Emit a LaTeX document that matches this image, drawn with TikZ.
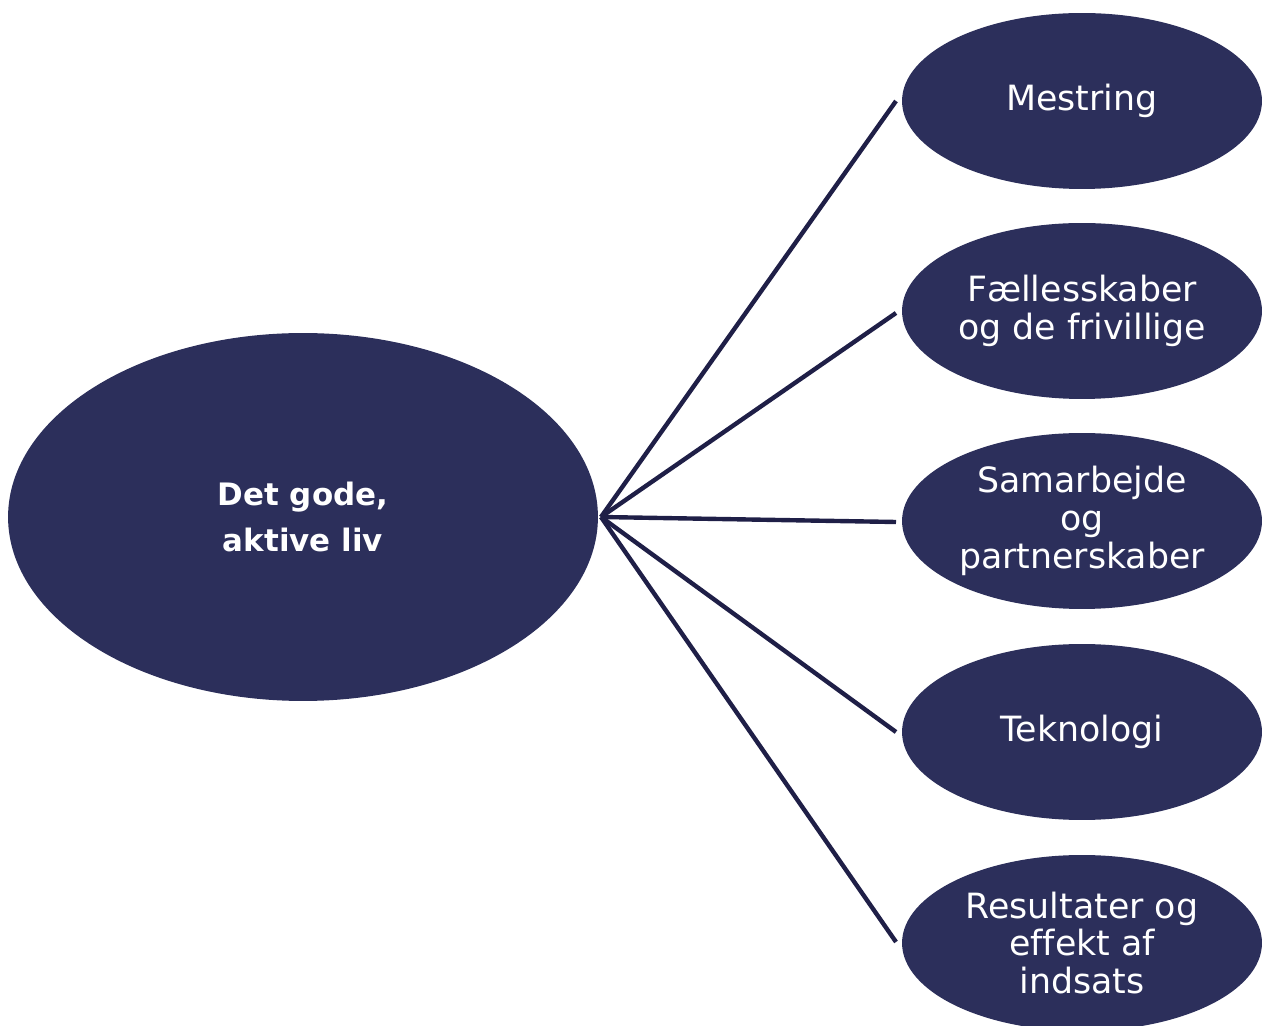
\documentclass[tikz,border=0pt]{standalone}
\usepackage{fontspec}
\setmainfont{DejaVu Sans}[Ligatures=NoCommon]
\usetikzlibrary{shapes.geometric}
\definecolor{navy}{HTML}{2C2F5B}
\definecolor{linenavy}{HTML}{1F1F47}
\begin{document}
\begin{tikzpicture}[x=0.02cm,y=-0.02cm,
  bubble/.style={ellipse,fill=navy,text=white,inner sep=0pt,align=center,
    minimum width=7.2cm,minimum height=3.52cm,
    font={\fontsize{19.8pt}{21.5pt}\selectfont}},
  hub/.style={ellipse,fill=navy,text=white,inner sep=0pt,align=center,
    minimum width=11.8cm,minimum height=7.36cm,
    font={\fontsize{17.6pt}{26.6pt}\selectfont\bfseries}},
  link/.style={draw=linenavy,line width=2.5pt}]
\useasboundingbox (0,0) rectangle (1265,1026);
\clip (0,0) rectangle (1265,1026);
\node[hub] (main) at (303,517) {Det gode,\\aktive liv};
\node[bubble] (b1) at (1082,101) {Mestring};
\node[bubble] (b2) at (1082,311) {Fællesskaber\\og de frivillige};
\node[bubble] (b3) at (1082,521) {Samarbejde\\og\\partnerskaber};
\node[bubble] (b4) at (1082,732) {Teknologi};
\node[bubble] (b5) at (1082,943) {Resultater og\\effekt af\\indsats};
\coordinate (h) at (601,517);
\coordinate (e1) at (896,101);
\coordinate (e2) at (896,313);
\coordinate (e3) at (896,522);
\coordinate (e4) at (896,732);
\coordinate (e5) at (896,942);
\foreach \e in {e1,e2,e3,e4,e5}
  \draw[link] (h) -- (\e);
\end{tikzpicture}
\end{document}
